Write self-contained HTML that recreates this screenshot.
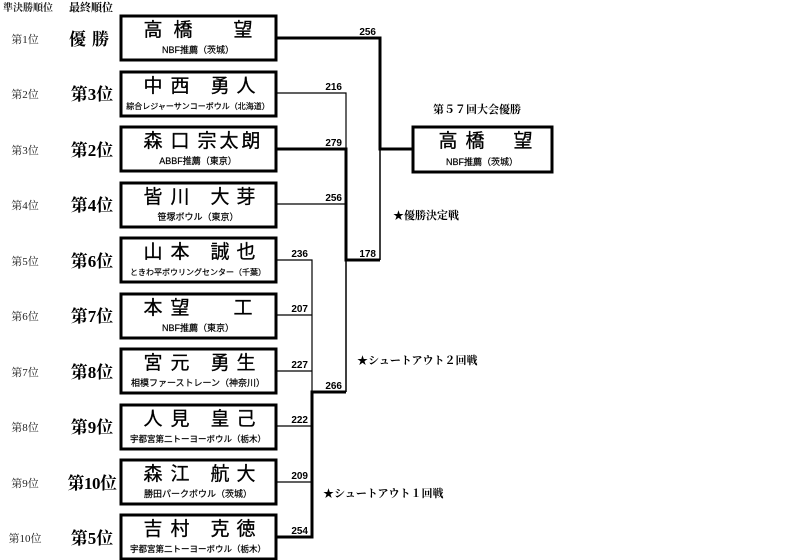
<!DOCTYPE html>
<html><head><meta charset="utf-8"><style>
body{margin:0;background:#fff;}
svg{display:block;font-family:"Liberation Sans","Noto Sans CJK JP",sans-serif;}
.s{font-family:"Liberation Serif","Noto Serif CJK SC",serif;}
</style></head><body>
<svg width="800" height="560" viewBox="0 0 800 560" xmlns="http://www.w3.org/2000/svg">
<g class="s" font-weight="bold">
<text x="3" y="11" font-size="10" fill="#222">準決勝順位</text>
<text x="69" y="11" font-size="11">最終順位</text>
</g>
<g fill="none" stroke="#000" stroke-width="3">
<rect x="121" y="16" width="155" height="44"/>
<rect x="121" y="72" width="155" height="44"/>
<rect x="121" y="127" width="155" height="44"/>
<rect x="121" y="183" width="155" height="44"/>
<rect x="121" y="238" width="155" height="44"/>
<rect x="121" y="294" width="155" height="44"/>
<rect x="121" y="349" width="155" height="44"/>
<rect x="121" y="405" width="155" height="44"/>
<rect x="121" y="460" width="155" height="44"/>
<rect x="121" y="515" width="155" height="44"/>
<rect x="413" y="127" width="139" height="45"/>
</g>
<g fill="none" stroke="#000">
<path d="M277 38H380V149H413" stroke-width="3"/>
<path d="M380 149V260" stroke-width="1.5"/>
<path d="M277 93H346V149" stroke-width="1.2"/>
<path d="M277 149H346V260H380" stroke-width="3"/>
<path d="M277 204H346" stroke-width="1.2"/>
<path d="M346 260V392" stroke-width="1.5"/>
<path d="M277 260H312V392M277 315H312M277 371H312M277 426H312M277 482H312" stroke-width="1.2"/>
<path d="M346 392H312V537H277" stroke-width="3"/>
</g>
<g font-size="10" font-weight="bold" text-anchor="end">
<text x="376" y="35">256</text>
<text x="342" y="90">216</text>
<text x="342" y="146">279</text>
<text x="342" y="201">256</text>
<text x="376" y="257">178</text>
<text x="308" y="257">236</text>
<text x="308" y="312">207</text>
<text x="308" y="368">227</text>
<text x="342" y="389">266</text>
<text x="308" y="423">222</text>
<text x="308" y="479">209</text>
<text x="308" y="534">254</text>
</g>
<g class="s" font-size="11" fill="#222" text-anchor="middle">
<text x="25" y="43">第1位</text>
<text x="25" y="98">第2位</text>
<text x="25" y="154">第3位</text>
<text x="25" y="209">第4位</text>
<text x="25" y="265">第5位</text>
<text x="25" y="320">第6位</text>
<text x="25" y="376">第7位</text>
<text x="25" y="431">第8位</text>
<text x="25" y="487">第9位</text>
<text x="25" y="542">第10位</text>
</g>
<g class="s" font-size="17" font-weight="bold" text-anchor="middle">
<text x="92" y="45" letter-spacing="6">優勝</text>
<text x="92" y="100">第3位</text>
<text x="92" y="156">第2位</text>
<text x="92" y="211">第4位</text>
<text x="92" y="267">第6位</text>
<text x="92" y="322">第7位</text>
<text x="92" y="378">第8位</text>
<text x="92" y="433">第9位</text>
<text x="92" y="489" letter-spacing="-0.5">第10位</text>
<text x="92" y="544">第5位</text>
</g>
<g font-size="19" text-anchor="middle" stroke="#000" stroke-width="0.3">
<text y="36"><tspan x="153">高</tspan><tspan x="183">橋</tspan><tspan x="243">望</tspan></text>
<text y="92"><tspan x="153">中</tspan><tspan x="180">西</tspan><tspan x="220">勇</tspan><tspan x="246">人</tspan></text>
<text y="147"><tspan x="153">森</tspan><tspan x="180">口</tspan><tspan x="207">宗</tspan><tspan x="229">太</tspan><tspan x="251">朗</tspan></text>
<text y="203"><tspan x="153">皆</tspan><tspan x="180">川</tspan><tspan x="220">大</tspan><tspan x="246">芽</tspan></text>
<text y="258"><tspan x="153">山</tspan><tspan x="180">本</tspan><tspan x="220">誠</tspan><tspan x="246">也</tspan></text>
<text y="314"><tspan x="153">本</tspan><tspan x="180">望</tspan><tspan x="243">工</tspan></text>
<text y="369"><tspan x="153">宮</tspan><tspan x="180">元</tspan><tspan x="220">勇</tspan><tspan x="246">生</tspan></text>
<text y="425"><tspan x="153">人</tspan><tspan x="180">見</tspan><tspan x="220">皇</tspan><tspan x="246">己</tspan></text>
<text y="480"><tspan x="153">森</tspan><tspan x="180">江</tspan><tspan x="220">航</tspan><tspan x="246">大</tspan></text>
<text y="535"><tspan x="153">吉</tspan><tspan x="180">村</tspan><tspan x="220">克</tspan><tspan x="246">徳</tspan></text>
<text y="147"><tspan x="448">高</tspan><tspan x="475">橋</tspan><tspan x="523">望</tspan></text>
</g>
<g font-size="9" text-anchor="middle" stroke="#000" stroke-width="0.2">
<text x="198" y="53">NBF推薦（茨城）</text>
<text x="198" y="109" font-size="8">綜合レジャーサンコーボウル（北海道）</text>
<text x="198" y="164">ABBF推薦（東京）</text>
<text x="198" y="220">笹塚ボウル（東京）</text>
<text x="198" y="275" font-size="8">ときわ平ボウリングセンター（千葉）</text>
<text x="198" y="331">NBF推薦（東京）</text>
<text x="198" y="386">相模ファーストレーン（神奈川）</text>
<text x="198" y="442" font-size="8.5">宇都宮第二トーヨーボウル（栃木）</text>
<text x="198" y="497">勝田パークボウル（茨城）</text>
<text x="198" y="552" font-size="8.5">宇都宮第二トーヨーボウル（栃木）</text>
<text x="482" y="165">NBF推薦（茨城）</text>
</g>
<g class="s" font-size="11" font-weight="bold">
<text x="433" y="113">第５７回大会優勝</text>
<text x="393" y="219">★優勝決定戦</text>
<text x="357" y="364">★シュートアウト２回戦</text>
<text x="323" y="497">★シュートアウト１回戦</text>
</g>
</svg>
</body></html>
